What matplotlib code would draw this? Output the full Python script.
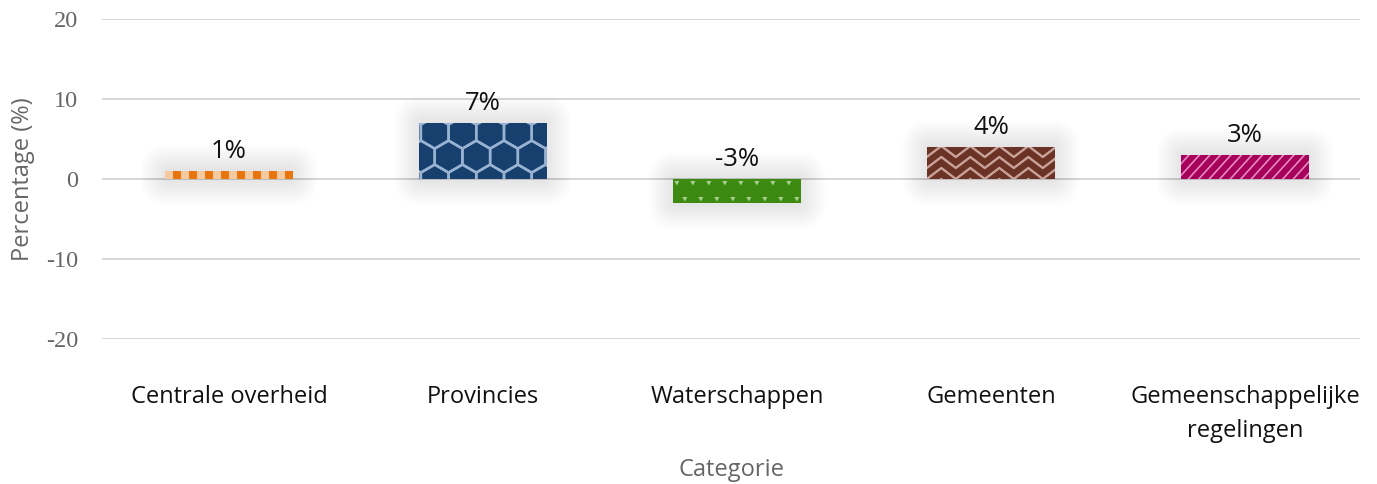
import numpy as np
import matplotlib
matplotlib.use("Agg")
import matplotlib.pyplot as plt
from matplotlib.patches import Rectangle, Polygon, FancyBboxPatch
from matplotlib.lines import Line2D
from matplotlib.transforms import IdentityTransform

categories = ["Centrale overheid", "Provincies", "Waterschappen", "Gemeenten",
              "Gemeenschappelijke\nregelingen"]
values = [1, 7, -3, 4, 3]
labels = ["1%", "7%", "-3%", "4%", "3%"]
yticks = [-20, -10, 0, 10, 20]
base_colors = ["#E8760C", "#17406F", "#3C8A10", "#6B3226", "#A6005C"]
pattern_colors = ["#F6C9A0", "#98B2D2", "#A9CF92", "#C9A29A", "#E58BBE"]
patterns = ["checker", "hex", "tri", "zigzag", "diag"]

W, H = 1377, 484
fig = plt.figure(figsize=(W / 100, H / 100), dpi=100)
ax = fig.add_axes([102 / W, 1 - 339 / H, (1360 - 102) / W, (339 - 19) / H])
ax.set_xlim(-0.5, 4.453)
ax.set_ylim(-20, 20)
for s in ax.spines.values():
    s.set_visible(False)
ax.set_yticks(yticks)
ax.set_yticklabels([str(t) for t in yticks], family="Liberation Serif",
                   fontsize=17.5, color="#666666")
ax.tick_params(axis="y", length=0, pad=17)
ax.tick_params(axis="x", length=0, pad=33)
ax.grid(axis="y", color="#cccccc", linewidth=1.1)
ax.set_axisbelow(True)
x = np.arange(len(categories))
ax.set_xticks(x)
ax.set_xticklabels(categories, family="Open Sans", fontsize=17, color="#111111",
                   linespacing=1.55)
ax.set_xlabel("Categorie", family="Open Sans", fontsize=17, color="#666666",
              labelpad=11)
ax.set_ylabel("Percentage (%)", family="Open Sans", fontsize=17, color="#666666",
              labelpad=8)

bars = ax.bar(x, values, width=0.505, color=base_colors, zorder=3, linewidth=0)

for i, b in enumerate(bars):
    ax.text(b.get_x() + b.get_width() / 2, max(values[i], 0) + 0.9, labels[i],
            ha="center", va="bottom", family="Open Sans", fontsize=18.5,
            color="#111111", zorder=5)

fig.canvas.draw()
ident = IdentityTransform()

def add(artist, bar):
    artist.set_transform(ident)
    artist.set_zorder(4)
    ax.add_artist(artist)
    artist.set_clip_path(bar)
    artist.set_clip_on(True)

for i, b in enumerate(bars):
    ext = b.get_window_extent()
    x0, x1, y0, y1 = ext.x0, ext.x1, ext.y0, ext.y1
    # soft shadow
    for k in range(1, 30):
        pad = k * 1.0
        sh = FancyBboxPatch((x0 + 4, y0 + 2), x1 - x0 - 8, y1 - y0 - 4,
                            boxstyle="round,pad=%f,rounding_size=%f" % (pad, pad),
                            facecolor="#000000", alpha=0.0055, linewidth=0)
        sh.set_transform(ident)
        sh.set_zorder(2)
        ax.add_artist(sh)
        sh.set_clip_on(False)

    pc = pattern_colors[i]
    p = patterns[i]
    if p == "checker":
        s = 8.0
        n = int((x1 - x0) / s) + 1
        for k in range(n):
            if k % 2 == 0:
                add(Rectangle((x0 + k * s, y0), s, y1 - y0, facecolor=pc,
                              linewidth=0), b)
    elif p == "hex":
        r = 16.0
        w = np.sqrt(3) * r
        yy = y1 + r * 0.9
        row = 0
        while yy > y0 - 2 * r:
            off = (w / 2) if row % 2 else 0
            xx = x0 - w + off + 2
            while xx < x1 + w:
                ang = np.deg2rad(np.arange(6) * 60 + 30)
                pts = np.c_[xx + r * np.cos(ang), yy + r * np.sin(ang)]
                add(Polygon(pts, closed=True, fill=False, edgecolor=pc,
                            linewidth=1.8), b)
                xx += w
            yy -= 1.5 * r
            row += 1
    elif p == "tri":
        sx, sy = 16.0, 16.0
        yy = y1 - 4
        row = 0
        while yy > y0:
            off = 8 if row % 2 else 0
            xx = x0 + 4 + off
            while xx < x1:
                add(Polygon([[xx - 2.5, yy + 2], [xx + 2.5, yy + 2], [xx, yy - 2.5]],
                            closed=True, facecolor=pc, linewidth=0), b)
                xx += sx
            yy -= sy
            row += 1
    elif p == "zigzag":
        period, amp, gap = 29.0, 11.0, 11.0
        xs = np.arange(x0 - period, x1 + period, period / 2)
        for yb in np.arange(y0 - 2 * amp, y1 + 2 * amp, gap):
            ys = [yb + (amp if (k % 2) else 0) for k in range(len(xs))]
            add(Line2D(xs, ys, color=pc, linewidth=1.7), b)
    elif p == "diag":
        sp = 10.5
        h = y1 - y0
        for xs in np.arange(x0 - h, x1 + sp, sp):
            add(Line2D([xs, xs + h * 0.9], [y0, y1], color=pc, linewidth=1.2), b)

fig.savefig("out.png", dpi=100)
